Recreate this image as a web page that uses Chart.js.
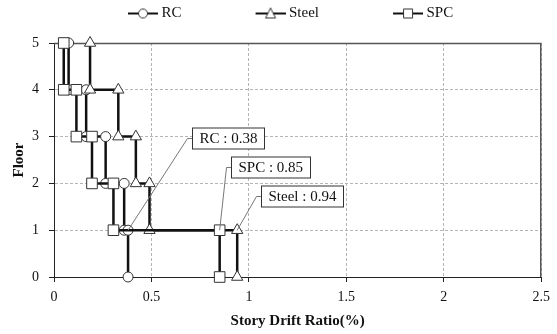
<!DOCTYPE html>
<html>
<head>
<meta charset="utf-8">
<script src="https://cdn.jsdelivr.net/npm/chart.js@4/dist/chart.umd.min.js"></script>
<style>
  html, body { margin: 0; padding: 0; background: #fff; }
  #wrap { width: 557px; height: 334px; }
</style>
</head>
<body>
<div id="wrap"><canvas id="drift"></canvas></div>
<script>
// story drift ratio (%) per floor
const floorLevels = [5, 4, 3, 2, 1];
const rcDrift = [0.075, 0.165, 0.265, 0.36, 0.38];
const steelDrift = [0.185, 0.33, 0.42, 0.49, 0.94];
const spcDrift = [0.05, 0.115, 0.195, 0.305, 0.85];
const seriesNames = ['RC', 'Steel', 'SPC'];
const xTickValues = [0, 0.5, 1, 1.5, 2, 2.5];
const yTickValues = [0, 1, 2, 3, 4, 5];

// callout boxes (left edge, vertical centre) in axis units
const calloutX = [0.71, 1.06, 0.91];
const calloutY = [2.98, 1.73, 2.35];

const FONT = '"Liberation Serif", "DejaVu Serif", serif';
Chart.defaults.font.family = FONT;
Chart.defaults.color = '#111';

const allDrift = [rcDrift, steelDrift, spcDrift];
const markers = ['circle', 'triangle', 'rect'];

// each floor value drawn as a step: top of storey down to the floor below
function stepPoints(drift) {
  const pts = [];
  drift.forEach((d, i) => {
    pts.push({ x: d, y: floorLevels[i] });
    pts.push({ x: d, y: floorLevels[i] - 1 });
  });
  return pts;
}

// legend swatch: line with marker, pushed to the right end of the box
function legendIcon(style) {
  const c = document.createElement('canvas');
  c.width = 102; c.height = 14;
  const g = c.getContext('2d');
  g.strokeStyle = '#111'; g.lineWidth = 2;
  g.beginPath(); g.moveTo(72, 7); g.lineTo(102, 7); g.stroke();
  g.fillStyle = '#fff'; g.strokeStyle = '#333'; g.lineWidth = 1;
  g.beginPath();
  if (style === 'circle') g.arc(87, 7, 4.5, 0, Math.PI * 2);
  else if (style === 'rect') g.rect(82.5, 2.5, 9, 9);
  else { g.moveTo(87, 1.5); g.lineTo(92, 11.5); g.lineTo(82, 11.5); g.closePath(); }
  g.fill(); g.stroke();
  return c;
}
const legendIcons = markers.map(legendIcon);

const frame = {
  id: 'frame',
  afterInit(chart) {
    const lg = chart.legend;
    const fit = lg.fit;
    lg.fit = function () { fit.call(this); this.height = 43; };
  },
  beforeDatasetsDraw(chart) {
    const { ctx, chartArea: a } = chart;
    ctx.save();
    ctx.strokeStyle = '#555';
    ctx.lineWidth = 1.5;
    ctx.beginPath();
    ctx.moveTo(a.left, a.top + 0.5);
    ctx.lineTo(a.right - 0.5, a.top + 0.5);
    ctx.lineTo(a.right - 0.5, a.bottom);
    ctx.stroke();
    ctx.restore();
  },
  afterDatasetsDraw(chart) {
    const { ctx, scales: { x, y } } = chart;
    ctx.save();
    ctx.font = '15px ' + FONT;
    ctx.textBaseline = 'middle';
    allDrift.forEach((drift, i) => {
      const last = drift.length - 1;
      const px = x.getPixelForValue(drift[last]);
      const py = y.getPixelForValue(floorLevels[last]);
      const text = seriesNames[i] + ' : ' + drift[last].toFixed(2);
      const bx = Math.round(x.getPixelForValue(calloutX[i])) + 0.5;
      const by = Math.round(y.getPixelForValue(calloutY[i])) + 0.5;
      const w = Math.round(ctx.measureText(text).width + 14);
      const h = 21;
      ctx.strokeStyle = '#777';
      ctx.lineWidth = 1;
      ctx.beginPath();
      ctx.moveTo(bx, by);
      ctx.lineTo(bx - 5, by);
      ctx.lineTo(px, py);
      ctx.stroke();
      ctx.fillStyle = '#fff';
      ctx.fillRect(bx, by - h / 2, w, h);
      ctx.strokeStyle = '#333';
      ctx.strokeRect(bx, by - h / 2, w, h);
      ctx.fillStyle = '#111';
      ctx.fillText(text, bx + 7, by + 1);
    });
    ctx.restore();
  }
};

const datasets = allDrift.map((drift, i) => ({
  label: seriesNames[i],
  data: stepPoints(drift),
  borderColor: '#111',
  borderWidth: 2.5,
  pointStyle: markers[i],
  pointRadius: [5, 6.5, 7.5][i],
  pointBackgroundColor: '#fff',
  pointBorderColor: '#333',
  pointBorderWidth: 1,
  order: [2, 1, 0][i],
  clip: false,
  tension: 0,
  fill: false
}));

new Chart(document.getElementById('drift'), {
  type: 'line',
  data: { datasets },
  options: {
    responsive: true,
    maintainAspectRatio: false,
    animation: false,
    layout: { padding: { top: 0, right: 1, bottom: 0, left: 0 } },
    plugins: {
      tooltip: { enabled: false },
      legend: {
        position: 'top',
        align: 'start',
        fullSize: false,
        labels: {
          usePointStyle: true,
          pointStyleWidth: 94,
          padding: 6,
          font: { size: 15 },
          color: '#111',
          sort: (a, b) => a.datasetIndex - b.datasetIndex,
          generateLabels(chart) {
            return Chart.defaults.plugins.legend.labels.generateLabels(chart)
              .map(item => ({ ...item, pointStyle: legendIcons[item.datasetIndex] }));
          }
        }
      }
    },
    scales: {
      x: {
        type: 'linear',
        min: 0,
        max: 2.5,
        afterBuildTicks(scale) { scale.ticks = xTickValues.map(v => ({ value: v })); },
        afterFit(scale) { scale.height = 57; },
        ticks: { font: { size: 14 }, color: '#111', padding: 7, callback: v => String(v) },
        grid: { color: '#b5b5b5', lineWidth: 1, tickColor: '#222', tickLength: 5 },
        border: { color: '#222', width: 1, dash: [3, 2] },
        title: {
          display: true,
          text: 'Story Drift Ratio(%)',
          font: { size: 15, weight: 'bold' },
          color: '#111',
          padding: { top: 0, bottom: 4 }
        }
      },
      y: {
        type: 'linear',
        min: 0,
        max: 5,
        afterBuildTicks(scale) { scale.ticks = yTickValues.map(v => ({ value: v })); },
        afterFit(scale) { scale.width = 54; },
        ticks: { font: { size: 14 }, color: '#111', padding: 10, callback: v => String(v) },
        grid: { color: '#b5b5b5', lineWidth: 1, tickColor: '#222', tickLength: 5 },
        border: { color: '#222', width: 1, dash: [3, 2] },
        title: {
          display: true,
          text: 'Floor',
          font: { size: 15, weight: 'bold' },
          color: '#111',
          padding: { top: 10, bottom: 0 }
        }
      }
    }
  },
  plugins: [frame]
});
</script>
</body>
</html>
